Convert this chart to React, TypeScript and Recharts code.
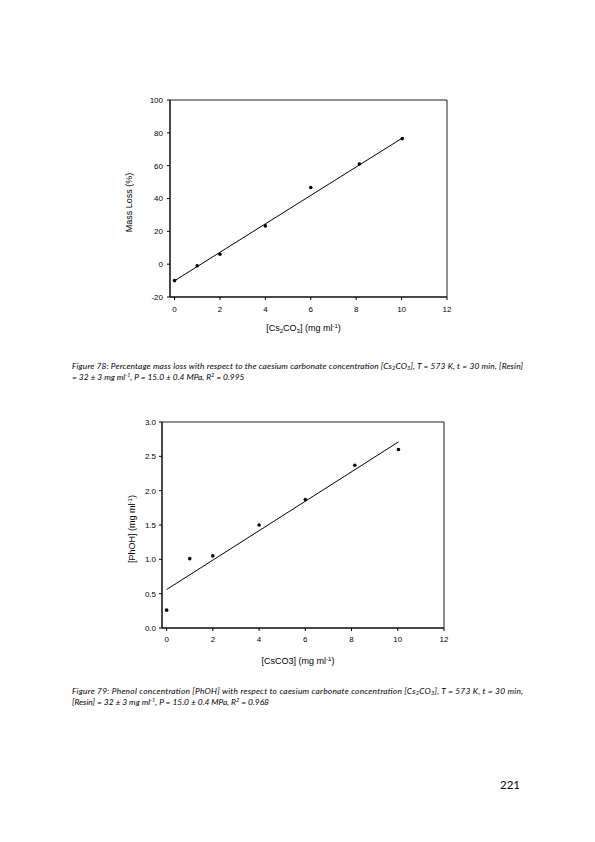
import React from 'react';
import { ScatterChart, Scatter, XAxis, YAxis, ReferenceArea } from 'recharts';

// Caesium carbonate concentration (mg/ml)
const concentration = [0, 1, 2, 4, 6, 8.14, 10.03];
// Figure 78: mass loss (%)
const massLoss = [-10, -1, 6, 23.3, 46.7, 61, 76.5];
// Figure 79: phenol concentration (mg/ml)
const phenol = [0.26, 1.01, 1.05, 1.5, 1.87, 2.37, 2.6];
// Regression line endpoints
const fitX = [0, 10.03];
const massFitY = [-10.1, 76.8];
const phenolFitY = [0.56, 2.71];
// Tick labels
const xTicks = [0, 2, 4, 6, 8, 10, 12];
const massTicks = [-20, 0, 20, 40, 60, 80, 100];
const phenolTicks = [0, 0.5, 1.0, 1.5, 2.0, 2.5, 3.0];

const massData = concentration.map((x, i) => ({ x, y: massLoss[i] }));
const phenolData = concentration.map((x, i) => ({ x, y: phenol[i] }));
const massFit = fitX.map((x, i) => ({ x, y: massFitY[i] }));
const phenolFit = fitX.map((x, i) => ({ x, y: phenolFitY[i] }));

const AX = 'Liberation Sans, Arial, sans-serif';
const CAP = 'Lato, sans-serif';

const Dot = (p: any) => <circle cx={p.cx} cy={p.cy} r={1.8} fill="#000" />;
const NoShape = () => <g />;

function XTitle(props: any, text: React.ReactNode, dy: number) {
  const vb = props.viewBox || {};
  return (
    <text x={vb.x + vb.width / 2 - 5} y={vb.y + dy} textAnchor="middle" fontFamily={AX} fontSize={9} fill="#000">
      {text}
    </text>
  );
}

function YTitle(props: any, text: React.ReactNode, dx: number) {
  const vb = props.viewBox || {};
  const cx = vb.x + dx;
  const cy = vb.y + vb.height / 2 + 4;
  return (
    <text x={cx} y={cy} transform={`rotate(-90 ${cx} ${cy})`} textAnchor="middle" dominantBaseline="middle" fontFamily={AX} fontSize={9} fill="#000">
      {text}
    </text>
  );
}

const tickStyle = { fontSize: 8, fontFamily: AX, fill: '#000' };

export default function App() {
  const fs = 8.4;
  return (
    <div style={{ position: 'absolute', left: 0, top: 0, width: 595, height: 842, background: '#fff', overflow: 'hidden' }}>
      <div style={{ position: 'absolute', left: 0, top: 0 }}>
        <ScatterChart width={595} height={400} margin={{ top: 100, left: 130, right: 148, bottom: 73 }}>
          <XAxis
            type="number" dataKey="x" domain={[-0.2, 12]} ticks={xTicks} height={30}
            tickSize={3} tickMargin={6} tick={tickStyle} stroke="#000" allowDataOverflow
            label={(p: any) => XTitle(p, <>
              [Cs<tspan fontSize={6} dy={2}>2</tspan><tspan dy={-2}>CO</tspan><tspan fontSize={6} dy={2}>3</tspan><tspan dy={-2}>] (mg ml</tspan><tspan fontSize={6} dy={-3}>-1</tspan><tspan dy={3}>)</tspan>
            </>, 34)}
          />
          <YAxis
            type="number" dataKey="y" domain={[-20, 100]} ticks={massTicks} width={40}
            tickSize={3} tickMargin={4} tick={tickStyle} stroke="#000" allowDataOverflow
            label={(p: any) => YTitle(p, 'Mass Loss (%)', 0)}
          />
          <ReferenceArea x1={-0.2} x2={12} y1={-20} y2={100} fill="none" stroke="#222" strokeWidth={1} ifOverflow="visible" />
          <Scatter data={massFit} line={{ stroke: '#000', strokeWidth: 1 }} shape={NoShape} isAnimationActive={false} />
          <Scatter data={massData} shape={Dot} isAnimationActive={false} />
        </ScatterChart>
      </div>
      <div style={{ position: 'absolute', left: 0, top: 380 }}>
        <ScatterChart width={595} height={320} margin={{ top: 42, left: 122, right: 151, bottom: 42 }}>
          <XAxis
            type="number" dataKey="x" domain={[-0.2, 12]} ticks={xTicks} height={30}
            tickSize={3} tickMargin={5} tick={tickStyle} stroke="#000" allowDataOverflow
            label={(p: any) => XTitle(p, <>
              [CsCO3] (mg ml<tspan fontSize={6} dy={-3}>-1</tspan><tspan dy={3}>)</tspan>
            </>, 36)}
          />
          <YAxis
            type="number" dataKey="y" domain={[0, 3]} ticks={phenolTicks} width={40}
            tickSize={3} tickMargin={3} tick={tickStyle} stroke="#000" allowDataOverflow
            tickFormatter={(v: number) => v.toFixed(1)}
            label={(p: any) => YTitle(p, <>
              [PhOH] (mg ml<tspan fontSize={6} dy={-3}>-1</tspan><tspan dy={3}>)</tspan>
            </>, 11)}
          />
          <ReferenceArea x1={-0.2} x2={12} y1={0} y2={3} fill="none" stroke="#222" strokeWidth={1} ifOverflow="visible" />
          <Scatter data={phenolFit} line={{ stroke: '#000', strokeWidth: 1 }} shape={NoShape} isAnimationActive={false} />
          <Scatter data={phenolData} shape={Dot} isAnimationActive={false} />
        </ScatterChart>
      </div>
      <svg width={595} height={842} style={{ position: 'absolute', left: 0, top: 0, pointerEvents: 'none' }}>
        <g fontFamily={CAP} fontStyle="italic" fontSize={fs} fill="#000">
          <text x={72} y={368.5} textLength={451} lengthAdjust="spacing">
            Figure 78: Percentage mass loss with respect to the caesium carbonate concentration [Cs<tspan fontSize={5.5} dy={1.5}>2</tspan><tspan dy={-1.5}>CO</tspan><tspan fontSize={5.5} dy={1.5}>3</tspan><tspan dy={-1.5}>], T = 573 K, t = 30 min, [Resin]</tspan>
          </text>
          <text x={72} y={379.5}>
            = 32 ± 3 mg ml<tspan fontSize={5.5} dy={-3}>-1</tspan><tspan dy={3}>, P = 15.0 ± 0.4 MPa, R</tspan><tspan fontSize={5.5} dy={-3}>2</tspan><tspan dy={3}> = 0.995</tspan>
          </text>
          <text x={72} y={693.5} textLength={451} lengthAdjust="spacing">
            Figure 79: Phenol concentration [PhOH] with respect to caesium carbonate concentration [Cs<tspan fontSize={5.5} dy={1.5}>2</tspan><tspan dy={-1.5}>CO</tspan><tspan fontSize={5.5} dy={1.5}>3</tspan><tspan dy={-1.5}>], T = 573 K, t = 30 min,</tspan>
          </text>
          <text x={72} y={704.5}>
            [Resin] = 32 ± 3 mg ml<tspan fontSize={5.5} dy={-3}>-1</tspan><tspan dy={3}>, P = 15.0 ± 0.4 MPa, R</tspan><tspan fontSize={5.5} dy={-3}>2</tspan><tspan dy={3}> = 0.968</tspan>
          </text>
        </g>
        <text x={520} y={789} textAnchor="end" fontFamily={CAP} fontSize={11.5} fill="#000">221</text>
      </svg>
    </div>
  );
}
